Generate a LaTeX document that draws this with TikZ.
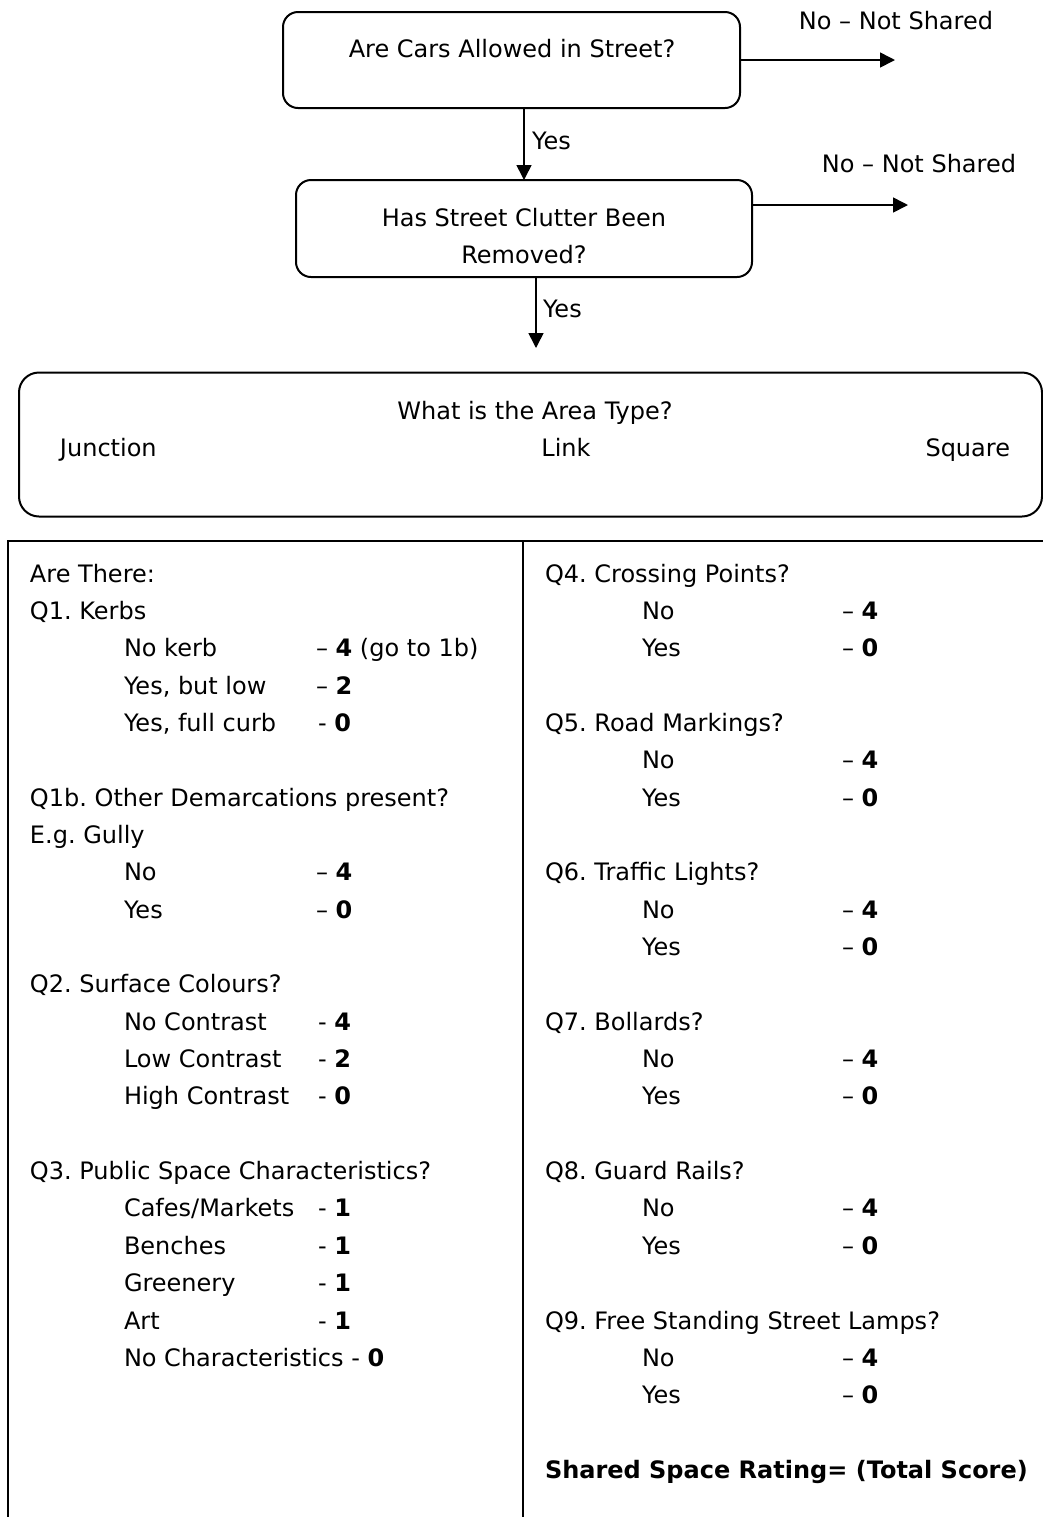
\documentclass[tikz,border=0pt]{standalone}
\usepackage{fontspec}
\setmainfont{DejaVu Sans}
\usetikzlibrary{arrows.meta}
\frenchspacing
\begin{document}
\begin{tikzpicture}[x=0.5pt,y=-0.5pt,
  every node/.style={inner sep=0pt, outer sep=0pt, font=\frenchspacing\fontsize{12}{14.4}\selectfont},
  txt/.style={anchor=base west},
  ctxt/.style={anchor=base},
  rbox/.style={draw, line width=1pt, rounded corners=7.5pt},
  arr/.style={line width=0.8pt, -{Triangle[length=7.5pt,width=7.5pt]}},
  rule/.style={line width=1pt}]
\useasboundingbox (0,0) rectangle (1043,1517);

% flow boxes
\node[rbox, minimum width=228.5pt, minimum height=48pt] (box1) at (511.5,60) {};
\node[ctxt] (t1) at (512,57) {Are Cars Allowed in Street?};
\node[rbox, minimum width=228pt, minimum height=48.5pt] (box2) at (524,228.5) {};
\node[ctxt] (t2a) at (524,226) {Has Street Clutter Been};
\node[ctxt] (t2b) at (524,263) {Removed?};
\node[rbox, rounded corners=10pt, minimum width=511.5pt, minimum height=72pt] (area) at (530.5,444.5) {};
\node[ctxt] (t3) at (535,419) {What is the Area Type?};
\node[txt] (junc) at (60,456) {Junction};
\node[ctxt] (link) at (566,456) {Link};
\node[anchor=base east] (sq) at (1010,456) {Square};

% connectors
\draw[arr] (box2.north |- box1.south) -- (box2.north);
\node[txt] (yes1) at (532,149) {Yes};
\coordinate (a2e) at (536,348);
\draw[arr] (box2.south -| a2e) -- (a2e);
\node[txt] (yes2) at (543,317) {Yes};
\coordinate (n1) at (895,60);
\draw[arr] (box1.east |- n1) -- (n1);
\node[ctxt] (ns1) at (896,29) {No – Not Shared};
\coordinate (n2) at (908,205);
\draw[arr] (box2.east |- n2) -- (n2);
\node[ctxt] (ns2) at (919,172) {No – Not Shared};

% table
\coordinate (tl) at (8,541);
\coordinate (tr) at (1043,541);
\coordinate (bl) at (8,1517);
\coordinate (dt) at (523,541);
\coordinate (db) at (523,1517);
\draw[rule] (bl) -- (tl) -- (tr);
\draw[rule] (dt) -- (db);

% left column
\node[txt] (l0) at (30,{582+37.35*0}) {Are There:};
\node[txt] (l1) at (30,{582+37.35*1}) {Q1. Kerbs};
\node[txt] (l2) at (124,{582+37.35*2}) {No kerb};
\node[txt] (l2v) at (316,{582+37.35*2}) {– \textbf{4} (go to 1b)};
\node[txt] (l3) at (124,{582+37.35*3}) {Yes, but low};
\node[txt] (l3v) at (316,{582+37.35*3}) {– \textbf{2}};
\node[txt] (l4) at (124,{582+37.35*4}) {Yes, full curb};
\node[txt] (l4v) at (318,{582+37.35*4}) {- \textbf{0}};
\node[txt] (l6) at (30,{582+37.35*6}) {Q1b. Other Demarcations present?};
\node[txt] (l7) at (30,{582+37.35*7}) {E.g. Gully};
\node[txt] (l8) at (124,{582+37.35*8}) {No};
\node[txt] (l8v) at (316,{582+37.35*8}) {– \textbf{4}};
\node[txt] (l9) at (124,{582+37.35*9}) {Yes};
\node[txt] (l9v) at (316,{582+37.35*9}) {– \textbf{0}};
\node[txt] (l11) at (30,{582+37.35*11}) {Q2. Surface Colours?};
\node[txt] (l12) at (124,{582+37.35*12}) {No Contrast};
\node[txt] (l12v) at (318,{582+37.35*12}) {- \textbf{4}};
\node[txt] (l13) at (124,{582+37.35*13}) {Low Contrast};
\node[txt] (l13v) at (318,{582+37.35*13}) {- \textbf{2}};
\node[txt] (l14) at (124,{582+37.35*14}) {High Contrast};
\node[txt] (l14v) at (318,{582+37.35*14}) {- \textbf{0}};
\node[txt] (l16) at (30,{582+37.35*16}) {Q3. Public Space Characteristics?};
\node[txt] (l17) at (124,{582+37.35*17}) {Cafes/Markets};
\node[txt] (l17v) at (318,{582+37.35*17}) {- \textbf{1}};
\node[txt] (l18) at (124,{582+37.35*18}) {Benches};
\node[txt] (l18v) at (318,{582+37.35*18}) {- \textbf{1}};
\node[txt] (l19) at (124,{582+37.35*19}) {Greenery};
\node[txt] (l19v) at (318,{582+37.35*19}) {- \textbf{1}};
\node[txt] (l20) at (124,{582+37.35*20}) {Art};
\node[txt] (l20v) at (318,{582+37.35*20}) {- \textbf{1}};
\node[txt] (l21) at (124,{582+37.35*21}) {No Characteristics - \textbf{0}};

% right column
\node[txt] (r0) at (545,{582+37.35*0}) {Q4. Crossing Points?};
\node[txt] (r1) at (642,{582+37.35*1}) {No};
\node[txt] (r1v) at (842,{582+37.35*1}) {– \textbf{4}};
\node[txt] (r2) at (642,{582+37.35*2}) {Yes};
\node[txt] (r2v) at (842,{582+37.35*2}) {– \textbf{0}};
\node[txt] (r4) at (545,{582+37.35*4}) {Q5. Road Markings?};
\node[txt] (r5) at (642,{582+37.35*5}) {No};
\node[txt] (r5v) at (842,{582+37.35*5}) {– \textbf{4}};
\node[txt] (r6) at (642,{582+37.35*6}) {Yes};
\node[txt] (r6v) at (842,{582+37.35*6}) {– \textbf{0}};
\node[txt] (r8) at (545,{582+37.35*8}) {Q6. Traffic Lights?};
\node[txt] (r9) at (642,{582+37.35*9}) {No};
\node[txt] (r9v) at (842,{582+37.35*9}) {– \textbf{4}};
\node[txt] (r10) at (642,{582+37.35*10}) {Yes};
\node[txt] (r10v) at (842,{582+37.35*10}) {– \textbf{0}};
\node[txt] (r12) at (545,{582+37.35*12}) {Q7. Bollards?};
\node[txt] (r13) at (642,{582+37.35*13}) {No};
\node[txt] (r13v) at (842,{582+37.35*13}) {– \textbf{4}};
\node[txt] (r14) at (642,{582+37.35*14}) {Yes};
\node[txt] (r14v) at (842,{582+37.35*14}) {– \textbf{0}};
\node[txt] (r16) at (545,{582+37.35*16}) {Q8. Guard Rails?};
\node[txt] (r17) at (642,{582+37.35*17}) {No};
\node[txt] (r17v) at (842,{582+37.35*17}) {– \textbf{4}};
\node[txt] (r18) at (642,{582+37.35*18}) {Yes};
\node[txt] (r18v) at (842,{582+37.35*18}) {– \textbf{0}};
\node[txt] (r20) at (545,{582+37.35*20}) {Q9. Free Standing Street Lamps?};
\node[txt] (r21) at (642,{582+37.35*21}) {No};
\node[txt] (r21v) at (842,{582+37.35*21}) {– \textbf{4}};
\node[txt] (r22) at (642,{582+37.35*22}) {Yes};
\node[txt] (r22v) at (842,{582+37.35*22}) {– \textbf{0}};
\node[txt] (r24) at (545,{582+37.35*24}) {\textbf{Shared Space Rating= (Total Score)}};
\end{tikzpicture}
\end{document}
